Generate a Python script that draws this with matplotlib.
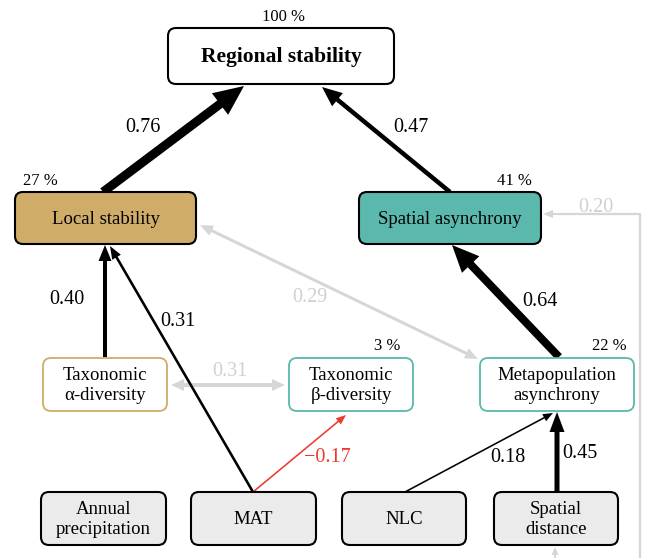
import matplotlib
matplotlib.use('Agg')
import matplotlib.pyplot as plt
from matplotlib.patches import FancyBboxPatch, FancyArrow

plt.rcParams['font.family'] = ['Liberation Serif', 'DejaVu Serif']

# Nodes: label, explained variance (None = exogenous)
nodeNames = ['Regional stability', 'Local stability', 'Spatial asynchrony',
             'Taxonomic\nα-diversity', 'Taxonomic\nβ-diversity', 'Metapopulation\nasynchrony',
             'Annual\nprecipitation', 'MAT', 'NLC', 'Spatial\ndistance']
nodeR2 = ['100 %', '27 %', '41 %', None, '3 %', '22 %', None, None, None, None]

# Paths: from, to, standardized coefficient
pathFrom = ['Local stability', 'Spatial asynchrony', 'Metapopulation\nasynchrony',
            'Taxonomic\nα-diversity', 'MAT', 'MAT', 'NLC', 'Spatial\ndistance']
pathTo = ['Regional stability', 'Regional stability', 'Spatial asynchrony',
          'Local stability', 'Local stability', 'Taxonomic\nβ-diversity',
          'Metapopulation\nasynchrony', 'Metapopulation\nasynchrony']
pathCoef = [0.76, 0.47, 0.64, 0.40, 0.31, -0.17, 0.18, 0.45]

# non-significant paths (grey)
nsLabels = ['0.29', '0.31', '0.20']

# box layout in pixels: x0, y0, x1, y1
boxes = {
    'Regional stability': (168, 28, 394, 84),
    'Local stability': (15, 192, 196, 244),
    'Spatial asynchrony': (359, 192, 541, 244),
    'Taxonomic\nα-diversity': (43, 358, 167, 411),
    'Taxonomic\nβ-diversity': (289, 358, 413, 411),
    'Metapopulation\nasynchrony': (480, 358, 634, 411),
    'Annual\nprecipitation': (41, 492, 166, 545),
    'MAT': (191, 492, 316, 545),
    'NLC': (342, 492, 466, 545),
    'Spatial\ndistance': (494, 492, 618, 545),
}
tan = '#CFAD69'
teal = '#5BB8AC'
grey = '#D6D6D6'
red = '#EE3A2E'
faces = {'Local stability': tan, 'Spatial asynchrony': teal}
edges = {'Taxonomic\nα-diversity': tan, 'Taxonomic\nβ-diversity': teal,
         'Metapopulation\nasynchrony': teal}
bottom = ['Annual\nprecipitation', 'MAT', 'NLC', 'Spatial\ndistance']

fig = plt.figure(figsize=(6.46, 5.58), dpi=100)
ax = fig.add_axes([0, 0, 1, 1])
ax.set_xlim(0, 646)
ax.set_ylim(558, 0)
ax.axis('off')

for name, r2 in zip(nodeNames, nodeR2):
    x0, y0, x1, y1 = boxes[name]
    face = faces.get(name, '#EBEBEB' if name in bottom else 'white')
    edge = edges.get(name, 'black')
    lw = 1.3 if name in edges else 1.5
    box = FancyBboxPatch((x0 + 6, y0 + 6), x1 - x0 - 12, y1 - y0 - 12,
                         boxstyle='round,pad=6,rounding_size=8',
                         facecolor=face, edgecolor=edge, linewidth=lw, zorder=3)
    ax.add_patch(box)
    if name == 'Regional stability':
        ax.text((x0 + x1) / 2, (y0 + y1) / 2 + 1, name, ha='center', va='center',
                fontsize=15.5, fontweight='bold', zorder=4)
    else:
        ax.text((x0 + x1) / 2, (y0 + y1) / 2 + 1, name, ha='center', va='center',
                fontsize=13.5, linespacing=1.3, zorder=4)

# explained variance labels
pctSize = 12
ax.text(284, 17, nodeR2[0], ha='center', va='center', fontsize=pctSize)
ax.text(40, 181, nodeR2[1], ha='center', va='center', fontsize=pctSize)
ax.text(514, 181, nodeR2[2], ha='center', va='center', fontsize=pctSize)
ax.text(387, 346, nodeR2[4], ha='center', va='center', fontsize=pctSize)
ax.text(609, 346, nodeR2[5], ha='center', va='center', fontsize=pctSize)


def arrow(p0, p1, w, hw, hl, color='black', z=2):
    a = FancyArrow(p0[0], p0[1], p1[0] - p0[0], p1[1] - p0[1], width=w,
                   head_width=hw, head_length=hl, length_includes_head=True,
                   color=color, linewidth=0, zorder=z)
    ax.add_patch(a)


# significant paths: start, end, width, head width, head length, label pos
pathGeom = [
    ((103, 192), (244, 86), 9, 27, 30, (143, 128)),
    ((450, 192), (322, 87), 4.5, 17, 20, (411, 128)),
    ((559, 357), (452, 245), 8, 24, 27, (540, 301)),
    ((105, 357), (105, 245), 4, 13, 16, (67, 300)),
    ((253, 492), (110, 246), 2.6, 10, 13, (178, 322)),
    ((253, 492), (346, 415), 1.6, 8, 10, (327, 458)),
    ((405, 492), (553, 413), 1.6, 8, 10, (508, 457)),
    ((557, 493), (557, 412), 5, 15, 20, (580, 453)),
]
numSize = 14.5
for coef, (p0, p1, w, hw, hl, lp) in zip(pathCoef, pathGeom):
    col = red if coef < 0 else 'black'
    arrow(p0, p1, w, hw, hl, color=col)
    txt = f'{coef:.2f}'.replace('-', '\u2212')
    ax.text(lp[0], lp[1], txt, ha='center', va='center', fontsize=numSize, color=col)

# grey double-headed 0.29 and 0.31
mid = ((200 + 478) / 2, (225 + 359) / 2)
arrow(mid, (200, 225), 3, 11, 13, color=grey, z=1)
arrow(mid, (478, 359), 3, 11, 13, color=grey, z=1)
ax.text(310, 297, nsLabels[0], ha='center', va='center', fontsize=numSize, color='#D0D0D0')
mid = ((171 + 285) / 2, 385)
arrow(mid, (171, 385), 4, 12, 13, color=grey, z=1)
arrow(mid, (285, 385), 4, 12, 13, color=grey, z=1)
ax.text(230, 371, nsLabels[1], ha='center', va='center', fontsize=numSize, color='#D0D0D0')

# grey 0.20 path coming from below
ax.plot([640, 640, 560], [558, 214, 214], color=grey, linewidth=1.6, zorder=1)
arrow((562, 214), (543, 214), 2, 8, 10, color=grey, z=1)
ax.text(596, 207, nsLabels[2], ha='center', va='center', fontsize=numSize, color='#D0D0D0')
arrow((555, 558), (555, 547), 2, 7, 8, color=grey, z=1)

fig.savefig('out.png', dpi=100)
